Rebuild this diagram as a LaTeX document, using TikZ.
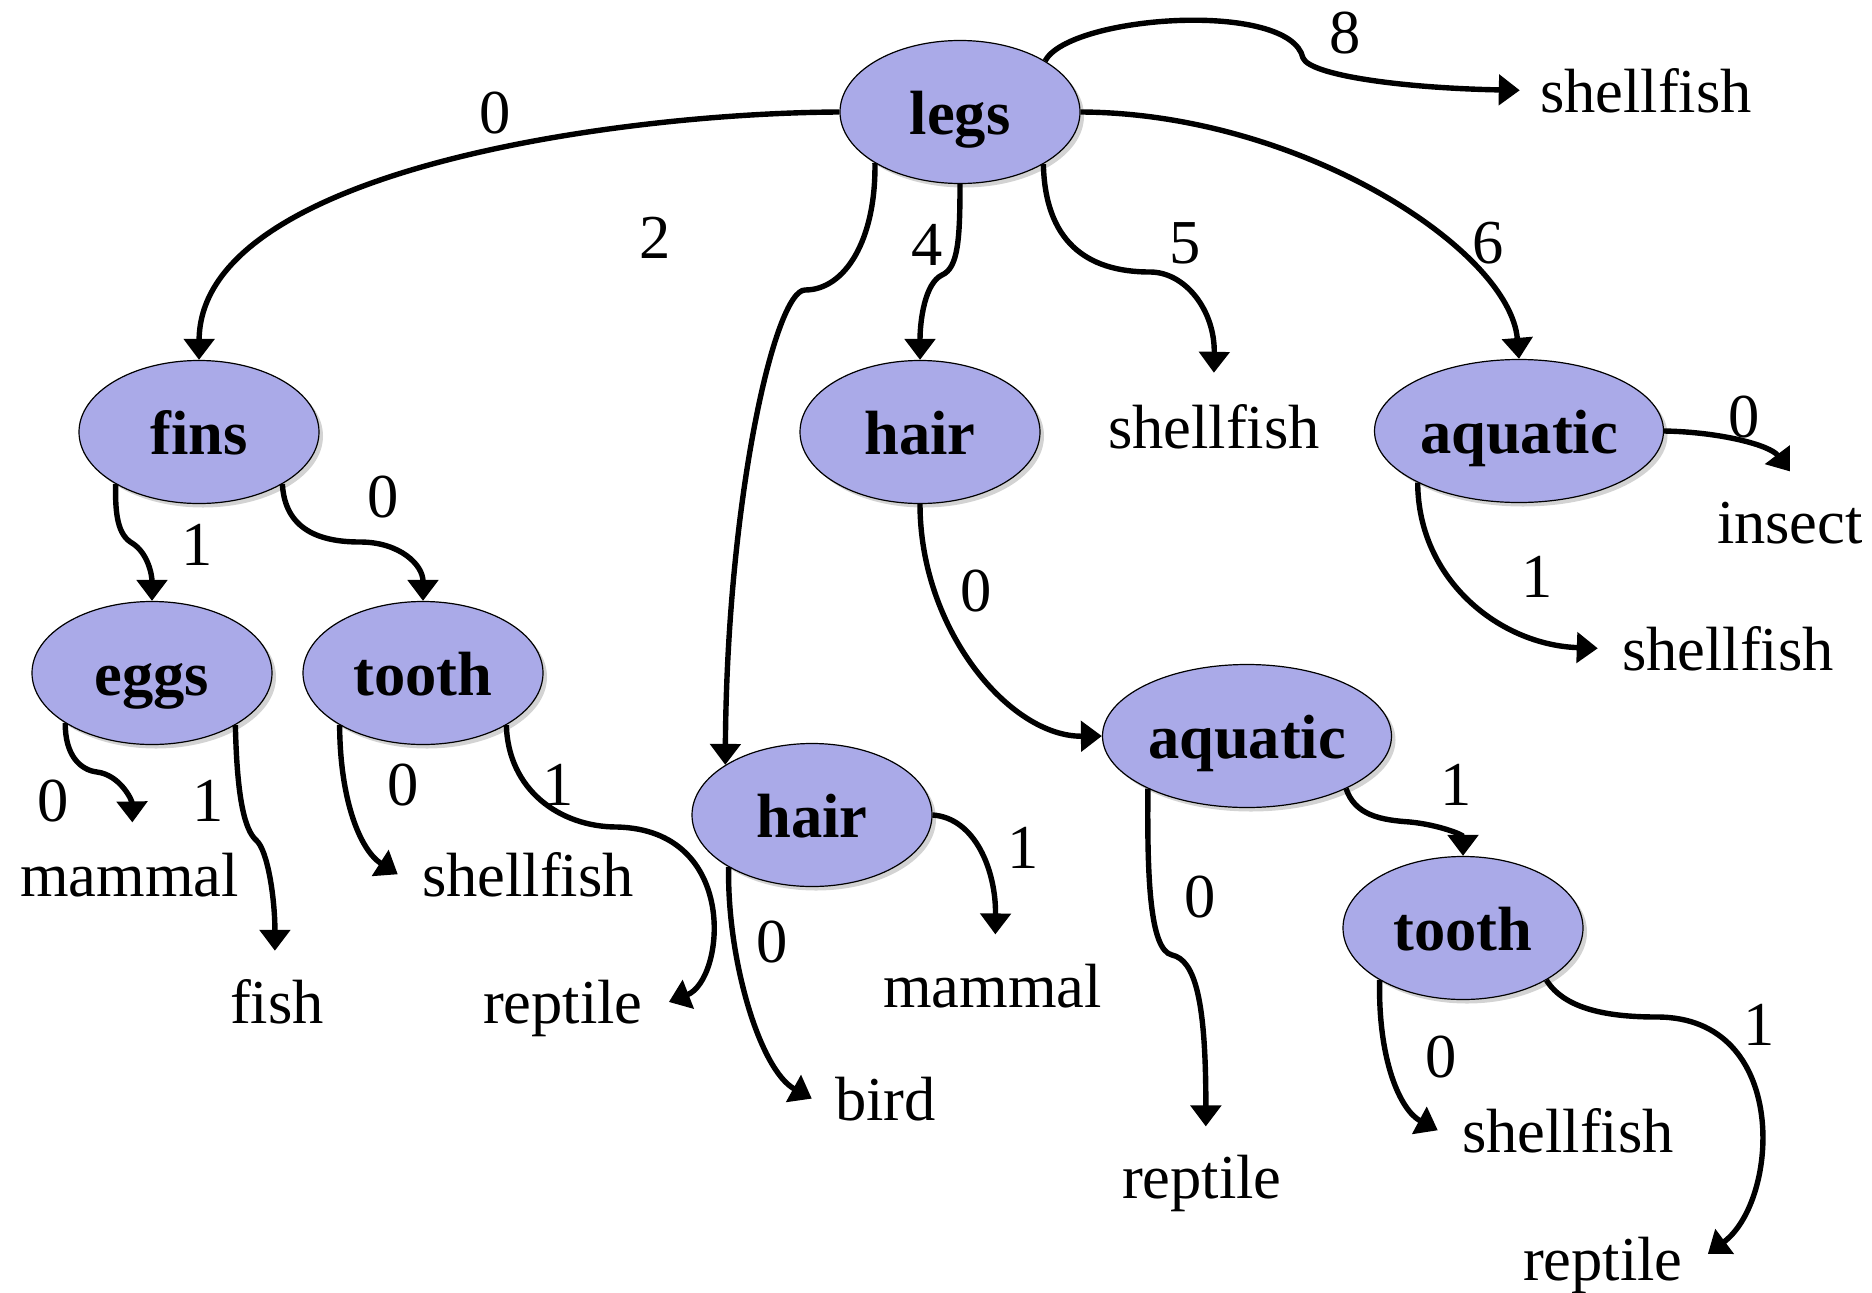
\documentclass[tikz,border=0pt]{standalone}
\usepackage{fontspec}
\setmainfont{Liberation Serif}
\usetikzlibrary{arrows.meta,shapes.geometric,shadows}
\definecolor{nodefill}{RGB}{170,170,232}
\begin{document}
\begin{tikzpicture}[x=1pt,y=-1pt,
  every node/.style={font=\fontsize{62.5}{75}\selectfont},
  attr/.style={ellipse, draw=black, line width=1.2pt, fill=nodefill,
    minimum width=240pt, minimum height=143pt, inner sep=0pt,
    text height=45pt, text depth=0pt,
    font=\fontsize{62.5}{75}\selectfont\bfseries,
    drop shadow={shadow xshift=4pt,shadow yshift=-4pt,opacity=0.35}},
  wide/.style={minimum width=289pt},
  leaf/.style={inner sep=0pt, anchor=text},
  lbl/.style={inner sep=0pt},
  conn/.style={line width=5.4pt, -{Triangle[length=21pt,width=30pt]}}
]
\useasboundingbox (0,0) rectangle (1872,1293);

% attribute nodes
\node[attr] (legs) at (960,112) {legs};
\node[attr] (fins) at (199,432) {fins};
\node[attr] (hair1) at (920,432) {hair};
\node[attr,wide] (aq1) at (1519,431) {aquatic};
\node[attr] (eggs) at (152,673) {eggs};
\node[attr] (toothL) at (423,673) {tooth};
\node[attr] (hair2) at (812,815) {hair};
\node[attr,wide] (aq2) at (1247,736) {aquatic};
\node[attr] (toothR) at (1463,928) {tooth};

% leaves
\node[leaf] (sfA) at (1540,112) {shellfish};
\node[leaf] (sfB) at (1108,448) {shellfish};
\node[leaf] (insect) at (1717,543) {insect};
\node[leaf] (sfC) at (1622,670) {shellfish};
\node[leaf] (mammalL) at (20,896) {mammal};
\node[leaf] (fish) at (230,1023) {fish};
\node[leaf] (sfD) at (422,896) {shellfish};
\node[leaf] (reptileL) at (483,1023) {reptile};
\node[leaf] (bird) at (835,1120) {bird};
\node[leaf] (mammalM) at (883,1007) {mammal};
\node[leaf] (reptileM) at (1122,1198) {reptile};
\node[leaf] (sfE) at (1462,1152) {shellfish};
\node[leaf] (reptileR) at (1523,1280) {reptile};

% edge labels
\node[lbl] (l0) at (495,113) {0};
\node[lbl] (l2) at (655,238) {2};
\node[lbl] (l4) at (927,245) {4};
\node[lbl] (l5) at (1185,243) {5};
\node[lbl] (l6) at (1488,243) {6};
\node[lbl] (l8) at (1345,33) {8};
\node[lbl] (lf1) at (197,545) {1};
\node[lbl] (lf0) at (383,497) {0};
\node[lbl] (la0) at (1744,417) {0};
\node[lbl] (la1) at (1537,577) {1};
\node[lbl] (lh0) at (976,591) {0};
\node[lbl] (le0) at (53,801) {0};
\node[lbl] (le1) at (208,801) {1};
\node[lbl] (lt0) at (403,785) {0};
\node[lbl] (lt1) at (558,785) {1};
\node[lbl] (lhm1) at (1023,848) {1};
\node[lbl] (lhm0) at (772,942) {0};
\node[lbl] (lam1) at (1456,785) {1};
\node[lbl] (lam0) at (1200,897) {0};
\node[lbl] (ltr0) at (1441,1057) {0};
\node[lbl] (ltr1) at (1759,1025) {1};

% connectors from legs
\draw[conn] (legs.west) .. controls (620,113) and (200,170) .. (fins.north);
\draw[conn] (legs.211) .. controls (876,240) and (845,290) .. (805,290)
   .. controls (775,290) and (727,500) .. (hair2.150);
\draw[conn] (legs.south) .. controls (960,240) and (958,268) .. (942,275)
   .. controls (925,283) and (920,320) .. (hair1.north);
\draw[conn] (legs.328) .. controls (1045,240) and (1085,272) .. (1150,272)
   .. controls (1185,272) and (1215,310) .. ([yshift=31pt]sfB.north);
\draw[conn] (legs.east) .. controls (1300,113) and (1510,250) .. (aq1.north);
\draw[conn] (legs.31) .. controls (1070,15) and (1290,0) .. (1303,58)
   .. controls (1310,75) and (1400,88) .. ([xshift=-20pt]sfA.west);

% fins
\draw[conn] (fins.212) .. controls (115,515) and (118,535) .. (132,543)
   .. controls (148,553) and (152,575) .. (eggs.north);
\draw[conn] (fins.328) .. controls (285,530) and (320,542) .. (360,542)
   .. controls (400,542) and (423,565) .. (toothL.north);

% hair (upper)
\draw[conn] (hair1.south) .. controls (920,630) and (1010,737) .. (aq2.west);

% aquatic (upper)
\draw[conn] (aq1.east) .. controls (1720,432) and (1770,445) .. ([yshift=30pt]insect.north);
\draw[conn] (aq1.207) .. controls (1418,580) and (1500,645) .. ([xshift=-24pt]sfC.west);

% eggs
\draw[conn] (eggs.210) .. controls (65,755) and (80,770) .. (97,772)
   .. controls (120,775) and (132,800) .. ([xshift=3pt,yshift=30pt]mammalL.north);
\draw[conn] (eggs.328) .. controls (237,800) and (245,830) .. (256,840)
   .. controls (268,850) and (275,900) .. ([xshift=-2pt,yshift=28pt]fish.north);

% tooth (left)
\draw[conn] (toothL.212) .. controls (340,800) and (360,850) .. ([xshift=-24pt]sfD.west);
\draw[conn] (toothL.328) .. controls (508,790) and (560,827) .. (617,827)
   .. controls (740,830) and (725,980) .. ([xshift=26pt,yshift=6pt]reptileL.east);

% hair (lower)
\draw[conn] (hair2.212) .. controls (727,960) and (760,1070) .. ([xshift=-23pt]bird.west);
\draw[conn] (hair2.east) .. controls (975,818) and (996,870) .. ([xshift=3pt,yshift=29pt]mammalM.north);

% aquatic (lower)
\draw[conn] (aq2.208) .. controls (1147,880) and (1150,950) .. (1172,955)
   .. controls (1195,960) and (1206,1000) .. ([xshift=4pt,yshift=28pt]reptileM.north);
\draw[conn] (aq2.332) .. controls (1355,815) and (1380,820) .. (1410,822)
   .. controls (1440,825) and (1463,835) .. (toothR.north);

% tooth (right)
\draw[conn] (toothR.212) .. controls (1378,1060) and (1400,1110) .. ([xshift=-24pt]sfE.west);
\draw[conn] (toothR.328) .. controls (1565,1010) and (1610,1017) .. (1657,1017)
   .. controls (1790,1017) and (1780,1200) .. ([xshift=25pt,yshift=11pt]reptileR.east);
\end{tikzpicture}
\end{document}
